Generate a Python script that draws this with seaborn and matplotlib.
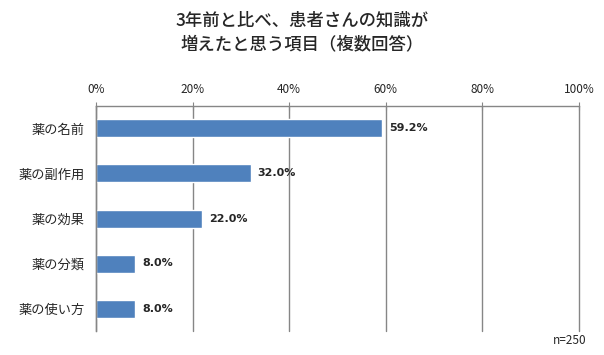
import numpy as np
import pandas as pd
import seaborn as sns
import matplotlib.pyplot as plt
from matplotlib.ticker import FixedLocator

# Data
categories = ["薬の名前", "薬の副作用", "薬の効果", "薬の分類", "薬の使い方"]
values = [59.2, 32.0, 22.0, 8.0, 8.0]
x_ticks = [0, 20, 40, 60, 80, 100]
title = "3年前と比べ、患者さんの知識が\n増えたと思う項目（複数回答）"
note = "n=250"

sns.set_style("white")
plt.rcParams['font.family'] = ['Noto Sans CJK JP', 'DejaVu Sans']

df = pd.DataFrame({"item": categories, "pct": values})

fig = plt.figure(figsize=(6.04, 3.55), dpi=100)
ax = fig.add_axes([96 / 604, 1 - 331 / 355, (579 - 96) / 604, (331 - 106) / 355])

sns.barplot(data=df, x="pct", y="item", color="#4F81BD", saturation=1,
            width=0.4, orient="h", ax=ax)

ax.set_xlim(0, 100)
ax.set_ylim(len(categories) - 0.5, -0.5)
ax.set_xticks(x_ticks)
ax.set_xticklabels([f"{t}%" for t in x_ticks], fontsize=8.5)
ax.xaxis.tick_top()
ax.tick_params(axis="x", which="major", direction="inout", length=6,
               color="#868686", pad=4)
ax.grid(axis="x", color="#868686", linewidth=1)
ax.set_axisbelow(True)
# keep the 100% gridline visible at the right edge
for gl in ax.get_xgridlines():
    gl.set_clip_on(False)

# category labels, ticks at category boundaries
ax.tick_params(axis="y", which="major", length=0, labelsize=9.5, pad=8)
ax.yaxis.set_minor_locator(FixedLocator(np.arange(-0.5, len(categories), 1)))
ax.tick_params(axis="y", which="minor", direction="out", length=5,
               color="#868686")

for side in ["right", "bottom"]:
    ax.spines[side].set_visible(False)
for side in ["top", "left"]:
    ax.spines[side].set_color("#868686")
    ax.spines[side].set_linewidth(1)

ax.set_xlabel("")
ax.set_ylabel("")

for i, v in enumerate(values):
    ax.text(v + 1.5, i, f"{v:.1f}%", va="center", ha="left",
            fontsize=8, fontweight="bold", family="DejaVu Sans")

fig.text(0.5, 1 - 32 / 355, title, ha="center", va="center",
         fontsize=12.5, fontweight="medium", linespacing=1.4)
fig.text(587 / 604, 1 - 340 / 355, note, ha="right", va="center", fontsize=8.5)

fig.savefig("out.png", dpi=100)
